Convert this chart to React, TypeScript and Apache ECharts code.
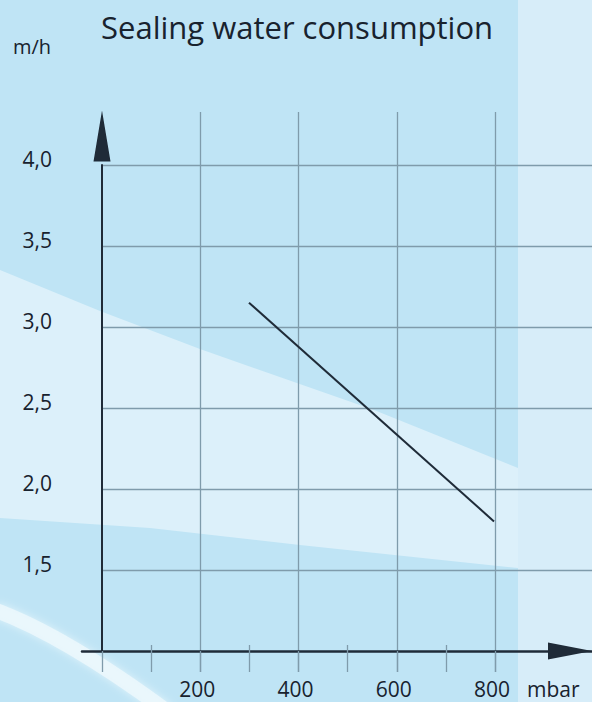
import React, { useEffect, useRef } from 'react';
import * as echarts from 'echarts';

const chartTitle = 'Sealing water consumption';
const yUnit = 'm/h';
const xUnit = 'mbar';
const pressure = [300, 800];
const consumption = [3.15, 1.8];
const yMin = 1.0;
const yMax = 4.0;
const yStep = 0.5;
const xMax = 800;
const xStep = 200;

export default function App() {
  const ref = useRef<HTMLDivElement>(null);
  useEffect(() => {
    const chart = echarts.init(ref.current!, null, { renderer: 'svg' });
    const font = 'Open Sans';
    const gridColor = '#7f9bab';
    const axisColor = '#1f2b38';
    const textColor = '#18222e';
    const pxPerUnit = 393 / xMax;
    const option: any = {
      animation: false,
      backgroundColor: '#bfe4f5',
      textStyle: { fontFamily: font },
      title: {
        text: chartTitle,
        left: 96,
        top: 6,
        textStyle: { fontFamily: font, fontSize: 31, fontWeight: 'normal', color: textColor },
      },
      graphic: [
        {
          type: 'polygon',
          z: -10,
          silent: true,
          shape: {
            points: [
              [0, 270], [100, 311], [200, 349], [374, 410], [518, 468],
              [518, 568], [300, 545], [150, 528], [0, 518],
            ],
          },
          style: { fill: '#dcf0fa' },
        },
        {
          type: 'rect',
          z: -10,
          silent: true,
          shape: { x: 518, y: 0, width: 74, height: 702 },
          style: { fill: '#d7edf9' },
        },
        {
          type: 'bezierCurve',
          z: -9,
          silent: true,
          shape: { x1: -5, y1: 610, cpx1: 65, cpy1: 636, x2: 168, y2: 712 },
          style: {
            fill: 'none',
            stroke: 'rgba(236,248,253,0.85)',
            lineWidth: 15,
            shadowBlur: 8,
            shadowColor: 'rgba(236,248,253,0.9)',
          },
        },
        {
          type: 'text',
          x: 13,
          y: 46,
          style: { text: yUnit, fontFamily: font, fontSize: 20, fill: textColor, verticalAlign: 'middle' },
        },
        {
          type: 'text',
          x: 527,
          y: 689,
          style: { text: xUnit, fontFamily: font, fontSize: 21, fill: textColor, verticalAlign: 'middle' },
        },
      ],
      grid: [
        { left: 102, top: 165, width: 1000 * pxPerUnit, bottom: 51 },
        { left: 102, top: 112, width: xMax * pxPerUnit, bottom: 30 },
        { left: 82, right: 0, top: 600, bottom: 51 },
      ],
      xAxis: [
        { gridIndex: 0, type: 'value', min: 0, max: 1000, show: false },
        {
          gridIndex: 1,
          type: 'value',
          min: 0,
          max: xMax,
          interval: xStep,
          axisLine: { show: false },
          axisTick: { show: true, inside: true, length: 21, lineStyle: { color: gridColor, width: 1.3 } },
          minorTick: { show: true, splitNumber: 2, length: 27, lineStyle: { color: gridColor, width: 1.3 } },
          splitLine: { show: true, showMinLine: false, lineStyle: { color: gridColor, width: 1.3 } },
          axisLabel: {
            margin: 6,
            fontSize: 21,
            fontFamily: font,
            color: textColor,
            padding: [0, 6, 0, 0],
            formatter: (v: number) => (v === 0 ? '' : String(v)),
          },
        },
        {
          gridIndex: 2,
          type: 'value',
          min: 0,
          max: 1,
          axisLine: {
            show: true,
            symbol: ['none', 'triangle'],
            symbolSize: [17, 44],
            symbolOffset: [0, -22],
            lineStyle: { color: axisColor, width: 2.5 },
          },
          axisTick: { show: false },
          axisLabel: { show: false },
          splitLine: { show: false },
        },
      ],
      yAxis: [
        {
          gridIndex: 0,
          type: 'value',
          min: yMin,
          max: yMax,
          interval: yStep,
          axisLine: {
            show: true,
            symbol: ['none', 'triangle'],
            symbolSize: [17, 51],
            symbolOffset: [0, 29],
            lineStyle: { color: axisColor, width: 2 },
          },
          axisTick: { show: false },
          splitLine: { show: true, showMinLine: false, lineStyle: { color: gridColor, width: 1.3 } },
          axisLabel: {
            margin: 50,
            align: 'right',
            verticalAlign: 'bottom',
            lineHeight: 12,
            fontSize: 21,
            fontFamily: font,
            color: textColor,
            formatter: (v: number) => (v === yMin ? '' : v.toFixed(1).replace('.', ',')),
          },
        },
        { gridIndex: 1, type: 'value', min: 0, max: 1, show: false },
        { gridIndex: 2, type: 'value', min: 0, max: 1, show: false },
      ],
      series: [
        {
          type: 'line',
          xAxisIndex: 0,
          yAxisIndex: 0,
          data: pressure.map((p, i) => [p, consumption[i]]),
          symbol: 'none',
          lineStyle: { color: axisColor, width: 2 },
          z: 5,
        },
      ],
    };
    chart.setOption(option);
    return () => chart.dispose();
  }, []);
  return <div ref={ref} style={{ position: 'absolute', left: 0, top: 0, width: 592, height: 702 }} />;
}
